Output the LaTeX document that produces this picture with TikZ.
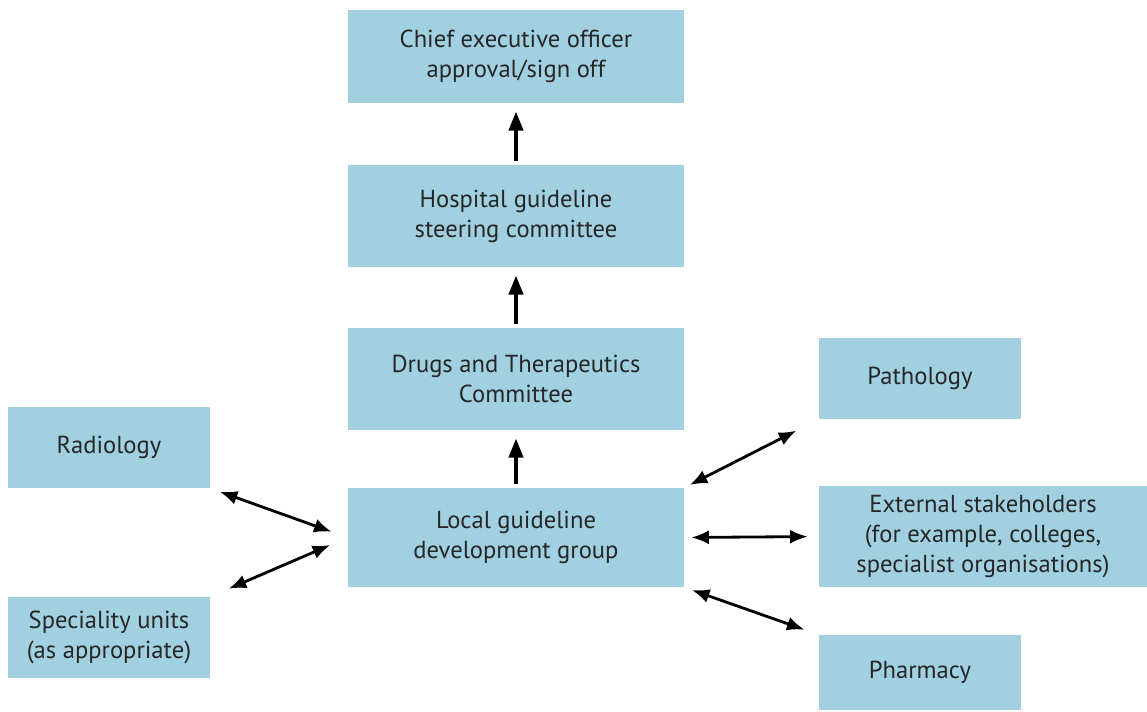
\documentclass[tikz,border=0pt]{standalone}
\usepackage{fontspec}
\setmainfont{PT Sans}
\usetikzlibrary{arrows.meta,positioning}
\definecolor{boxblue}{RGB}{161,208,225}
\tikzset{
    x=0.02cm, y=-0.02cm, % one unit per pixel, y going down
    box/.style={fill=boxblue, draw=none, align=center, inner sep=0pt,
                font=\fontsize{14}{17}\selectfont, text=black!85},
    up/.style={-{Triangle[length=11pt,width=8pt]}, line width=2.4pt, shorten <=4*0.02cm, shorten >=8*0.02cm},
    both/.style={{Latex[length=10pt,width=8pt]}-{Latex[length=10pt,width=8pt]}, line width=1.6pt},
}

\begin{document}
\begin{tikzpicture}
  \useasboundingbox (0,0) rectangle (1147,711);

  % main chain
  \node[box, minimum width=336*0.02cm, minimum height=93*0.02cm]  (ceo)   at (516,56.5)  {Chief executive officer\\approval/sign off};
  \node[box, minimum width=336*0.02cm, minimum height=102*0.02cm] (steer) at (516,216)   {Hospital guideline\\steering committee};
  \node[box, minimum width=336*0.02cm, minimum height=102*0.02cm] (dtc)   at (516,379)   {Drugs and Therapeutics\\Committee};
  \node[box, minimum width=336*0.02cm, minimum height=99*0.02cm]  (lgdg)  at (516,537.5) {Local guideline\\development group};

  % groups on the left
  \node[box, minimum width=202*0.02cm, minimum height=81*0.02cm] (radio) at (109,447.5) {Radiology};
  \node[box, minimum width=202*0.02cm, minimum height=81*0.02cm] (spec)  at (109,637.5) {Speciality units\\(as appropriate)};

  % groups on the right
  \node[box, minimum width=202*0.02cm, minimum height=81*0.02cm]  (path)  at (920,378.5) {Pathology};
  \node[box, minimum width=328*0.02cm, minimum height=101*0.02cm] (ext)   at (983,536.5) {External stakeholders\\(for example, colleges,\\specialist organisations)};
  \node[box, minimum width=202*0.02cm, minimum height=75*0.02cm]  (pharm) at (920,672.5) {Pharmacy};

  \path[up]
    (lgdg) edge (dtc)
    (dtc) edge (steer)
    (steer) edge (ceo);
  \path[both]
    (radio.south east) edge [shorten <=10*0.02cm, shorten >=17*0.02cm] (lgdg.west)
    (spec.north east)  edge [shorten <=20*0.02cm, shorten >=19*0.02cm] (lgdg.west)
    (lgdg.north east)  edge [shorten <=6*0.02cm, shorten >=25*0.02cm] (path.south west)
    (lgdg.east)        edge [shorten <=7*0.02cm, shorten >=11*0.02cm] (ext.west)
    (lgdg.south east)  edge [shorten <=8*0.02cm, shorten >=15*0.02cm] (pharm.north west);
\end{tikzpicture}
\end{document}
